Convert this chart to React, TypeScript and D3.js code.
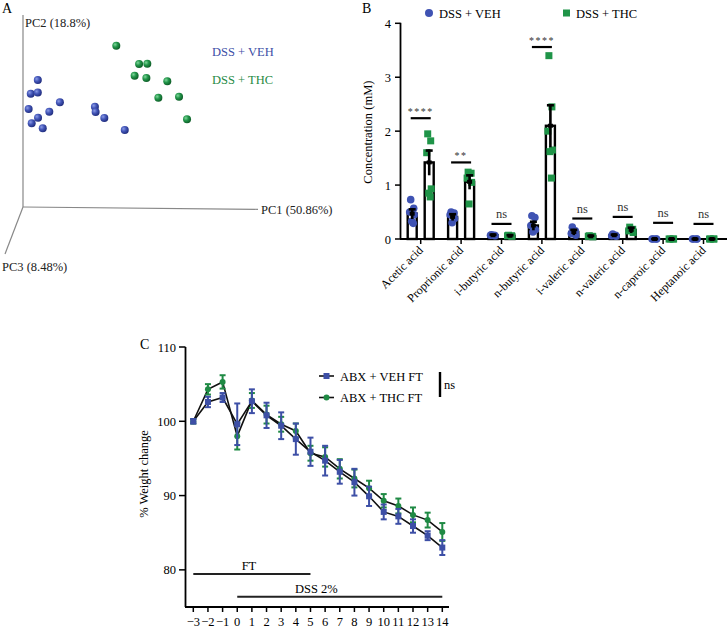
import React from "react";
import * as d3 from "d3";

// ---------- Panel A data (PCA scores, arbitrary units 0..100) ----------
const vehPC1 = [6.3, 3.3, 6.3, 2.4, 15.7, 11.2, 6.4, 3.7, 8.4, 30.6, 30.9, 34.6, 43.3];
const vehPC2 = [66.1, 59.0, 59.6, 51.0, 54.5, 49.6, 46.5, 43.6, 41.0, 52.2, 49.5, 46.4, 40.1];
const thcPC1 = [39.7, 49.4, 52.9, 47.5, 52.5, 61.4, 57.6, 66.4, 69.8];
const thcPC2 = [84.0, 74.5, 74.6, 68.4, 67.2, 65.5, 56.9, 57.4, 45.7];

// ---------- Panel B data ----------
const acids = [
  "Acetic acid",
  "Proprionic acid",
  "i-butyric acid",
  "n-butyric acid",
  "i-valeric acid",
  "n-valeric acid",
  "n-caproic acid",
  "Heptanoic acid",
];
const vehMean = [0.47, 0.41, 0.07, 0.25, 0.13, 0.07, 0.0, 0.0];
const vehSem = [0.08, 0.05, 0.01, 0.07, 0.04, 0.01, 0.0, 0.0];
const thcMean = [1.42, 1.06, 0.06, 2.1, 0.05, 0.17, 0.0, 0.0];
const thcSem = [0.22, 0.12, 0.01, 0.38, 0.01, 0.04, 0.0, 0.0];
const vehPoints = [
  [0.73, 0.57, 0.5, 0.45, 0.33, 0.29],
  [0.5, 0.48, 0.45, 0.38, 0.3],
  [0.08, 0.07, 0.07, 0.06],
  [0.43, 0.4, 0.25, 0.17, 0.13],
  [0.22, 0.15, 0.1, 0.07],
  [0.09, 0.07, 0.06, 0.05],
  [0, 0, 0, 0],
  [0, 0, 0, 0],
];
const thcPoints = [
  [1.95, 1.82, 1.6, 0.93, 0.85, 0.78],
  [1.24, 1.22, 1.13, 1.05, 0.65],
  [0.07, 0.06, 0.06, 0.05],
  [3.4, 2.45, 2.0, 1.65, 1.62, 1.13],
  [0.06, 0.05, 0.05, 0.04],
  [0.22, 0.18, 0.15, 0.12],
  [0, 0, 0, 0],
  [0, 0, 0, 0],
];
const sigLevel = [2.24, 1.42, 0.28, 3.56, 0.38, 0.41, 0.3, 0.28];
const sigLabel = ["****", "**", "ns", "****", "ns", "ns", "ns", "ns"];
const bTicks = [0, 1, 2, 3, 4];

// ---------- Panel C data ----------
const days = [-3, -2, -1, 0, 1, 2, 3, 4, 5, 6, 7, 8, 9, 10, 11, 12, 13, 14];
const vehW = [100, 102.6, 103.2, 99.6, 102.7, 100.8, 99.4, 97.6, 95.9, 94.7, 93.2, 91.8, 89.9, 87.8, 87.2, 85.9, 84.6, 83.0];
const vehE = [0.3, 0.7, 0.6, 2.8, 1.6, 1.7, 1.8, 2.1, 1.9, 2.0, 1.6, 1.8, 1.3, 1.0, 1.0, 0.9, 0.6, 1.0];
const thcW = [100, 104.3, 105.3, 98.0, 102.8, 100.9, 99.6, 98.7, 95.7, 95.2, 93.6, 92.3, 91.0, 89.3, 88.6, 87.4, 86.7, 85.1];
const thcE = [0.3, 0.7, 0.9, 1.8, 1.0, 1.2, 1.0, 1.0, 1.0, 1.3, 1.3, 1.2, 1.0, 0.9, 1.0, 1.0, 1.0, 1.2];
const cTicks = [80, 90, 100, 110];
const ftRange = [-3, 5];
const dssRange = [0, 14];

const FONT = "'Liberation Serif', 'DejaVu Serif', serif";
const BLUE = "#3d4fa6";
const GREEN = "#1f8a44";
const BLUE_B = "#3f53b3";
const GREEN_B = "#1f9448";

const fmtMinus = (d: number) => (d < 0 ? "\u2212" + Math.abs(d) : String(d));

function PanelA() {
  const x = d3.scaleLinear().domain([0, 100]).range([23, 258]);
  const y = d3.scaleLinear().domain([0, 100]).range([207, 15]);
  const r = 4;
  return (
    <g>
      <defs>
        <radialGradient id="gBlue" cx="0.35" cy="0.35" r="0.7">
          <stop offset="0%" stopColor="#8b9be6" />
          <stop offset="45%" stopColor="#4356b8" />
          <stop offset="100%" stopColor="#1e2a7a" />
        </radialGradient>
        <radialGradient id="gGreen" cx="0.35" cy="0.35" r="0.7">
          <stop offset="0%" stopColor="#7fd69a" />
          <stop offset="45%" stopColor="#22964a" />
          <stop offset="100%" stopColor="#0c5a25" />
        </radialGradient>
      </defs>
      <text x={2} y={13} fontSize={14} fontFamily={FONT}>A</text>
      <line x1={23} y1={15} x2={23} y2={207} stroke="#888" strokeWidth={1.2} />
      <line x1={23} y1={207} x2={258} y2={209.3} stroke="#888" strokeWidth={1.2} />
      <line x1={23} y1={207} x2={5} y2={254} stroke="#888" strokeWidth={1.2} />
      <text x={25} y={27} fontSize={12.5} fontFamily={FONT} fill="#222">PC2 (18.8%)</text>
      <text x={261} y={214} fontSize={12.5} fontFamily={FONT} fill="#222">PC1 (50.86%)</text>
      <text x={2} y={271} fontSize={12.5} fontFamily={FONT} fill="#222">PC3 (8.48%)</text>
      <text x={212} y={56} fontSize={12.5} fontFamily={FONT} fill={BLUE}>DSS + VEH</text>
      <text x={212} y={84} fontSize={12.5} fontFamily={FONT} fill={GREEN}>DSS + THC</text>
      {vehPC1.map((v, i) => (
        <circle key={"vb" + i} cx={x(v)} cy={y(vehPC2[i])} r={r} fill="url(#gBlue)" />
      ))}
      {thcPC1.map((v, i) => (
        <circle key={"tg" + i} cx={x(v)} cy={y(thcPC2[i])} r={r} fill="url(#gGreen)" />
      ))}
    </g>
  );
}

function PanelB() {
  const x = d3.scaleBand<string>().domain(acids).range([400.5, 723.7]);
  const y = d3.scaleLinear().domain([0, 4]).range([239, 23.3]);
  const off = 8.5;
  const bw = 9;
  const jitter = [-1.5, 1.5, -2.5, 2, -0.5, 1];
  const errBar = (cx: number, m: number, s: number, key: string) => (
    <g key={key} stroke="#000" strokeWidth={2.6}>
      <line x1={cx} x2={cx} y1={y(m + s) - 1} y2={y(Math.max(0, m - s)) + 1} />
      <line x1={cx - 3.5} x2={cx + 3.5} y1={y(m + s)} y2={y(m + s)} />
      <line x1={cx - 2.5} x2={cx + 2.5} y1={y(m)} y2={y(m)} strokeWidth={4} />
    </g>
  );
  return (
    <g>
      <text x={362} y={13} fontSize={14} fontFamily={FONT}>B</text>
      <circle cx={429} cy={13} r={4} fill={BLUE_B} />
      <text x={439} y={17.5} fontSize={12.5} fontFamily={FONT}>DSS + VEH</text>
      <rect x={563} y={9.5} width={7} height={7} fill={GREEN_B} />
      <text x={576} y={17.5} fontSize={12.5} fontFamily={FONT}>DSS + THC</text>
      {/* y axis */}
      <line x1={400.5} x2={400.5} y1={y(4) - 0.5} y2={y(0)} stroke="#000" strokeWidth={1.8} />
      {bTicks.map((t) => (
        <g key={"bt" + t}>
          <line x1={395} x2={400.5} y1={y(t)} y2={y(t)} stroke="#000" strokeWidth={1.5} />
          <text x={391} y={y(t) + 4.5} fontSize={12.5} fontFamily={FONT} textAnchor="end">{t}</text>
        </g>
      ))}
      <text
        transform={`translate(372,${(y(0) + y(4)) / 2 + 1}) rotate(-90)`}
        fontSize={12.5}
        fontFamily={FONT}
        textAnchor="middle"
      >
        Concentration (mM)
      </text>
      {/* x axis */}
      <line x1={400} x2={727} y1={y(0)} y2={y(0)} stroke="#000" strokeWidth={1.8} />
      {acids.map((a) => {
        const cx = (x(a) as number) + x.bandwidth() / 2;
        return (
          <g key={"xt" + a}>
            <line x1={cx} x2={cx} y1={y(0)} y2={y(0) + 5} stroke="#000" strokeWidth={1.5} />
            <text
              transform={`translate(${cx + 3},${y(0) + 12}) rotate(-45)`}
              fontSize={12}
              fontFamily={FONT}
              textAnchor="end"
            >
              {a}
            </text>
          </g>
        );
      })}
      {/* bars */}
      {acids.map((a, i) => {
        const cx = (x(a) as number) + x.bandwidth() / 2;
        return (
          <g key={"bar" + a}>
            <rect x={cx - off - bw / 2} y={y(vehMean[i])} width={bw} height={y(0) - y(vehMean[i])} fill="#fff" stroke="#000" strokeWidth={2.4} />
            <rect x={cx + off - bw / 2} y={y(thcMean[i])} width={bw} height={y(0) - y(thcMean[i])} fill="#fff" stroke="#000" strokeWidth={2.4} />
          </g>
        );
      })}
      {acids.map((a, i) => {
        const cx = (x(a) as number) + x.bandwidth() / 2;
        return (
          <g key={"pts" + a}>
            {vehPoints[i].map((v, j) => (
              <circle key={"v" + j} cx={cx - off + jitter[j % jitter.length]} cy={y(v)} r={3.8} fill={BLUE_B} />
            ))}
            {thcPoints[i].map((v, j) => (
              <rect key={"t" + j} x={cx + off + jitter[j % jitter.length] - 3.5} y={y(v) - 3.5} width={7} height={7} fill={GREEN_B} />
            ))}
          </g>
        );
      })}
      {acids.map((a, i) => {
        const cx = (x(a) as number) + x.bandwidth() / 2;
        return (
          <g key={"err" + a}>
            {errBar(cx - off, vehMean[i], vehSem[i], "ve")}
            {errBar(cx + off, thcMean[i], thcSem[i], "te")}
          </g>
        );
      })}
      {/* significance */}
      {acids.map((a, i) => {
        const cx = (x(a) as number) + x.bandwidth() / 2;
        const yy = y(sigLevel[i]);
        const isStar = sigLabel[i] !== "ns";
        return (
          <g key={"sig" + a}>
            <line x1={cx - 10} x2={cx + 10} y1={yy} y2={yy} stroke="#000" strokeWidth={2.2} />
            <text
              x={cx}
              y={isStar ? yy - 3 : yy - 6}
              fontSize={isStar ? 10 : 12.5}
              letterSpacing={isStar ? 1.5 : 0}
              fontFamily={FONT}
              textAnchor="middle"
              fill="#333"
            >
              {sigLabel[i]}
            </text>
          </g>
        );
      })}
    </g>
  );
}

function PanelC() {
  const x = d3.scaleLinear().domain([-3, 14]).range([193.3, 442.3]);
  const y = d3.scaleLinear().domain([75, 110]).range([607, 347]);
  const line = d3
    .line<number>()
    .x((_, i) => x(days[i]))
    .y((d) => y(d));
  const errs = (vals: number[], es: number[], color: string, key: string) => (
    <g key={key} stroke={color} strokeWidth={2}>
      {vals.map((v, i) => (
        <g key={i}>
          <line x1={x(days[i])} x2={x(days[i])} y1={y(v + es[i])} y2={y(v - es[i])} />
          <line x1={x(days[i]) - 3} x2={x(days[i]) + 3} y1={y(v + es[i])} y2={y(v + es[i])} />
          <line x1={x(days[i]) - 3} x2={x(days[i]) + 3} y1={y(v - es[i])} y2={y(v - es[i])} />
        </g>
      ))}
    </g>
  );
  return (
    <g>
      <text x={140} y={349} fontSize={14} fontFamily={FONT}>C</text>
      {/* y axis */}
      <line x1={185.5} x2={185.5} y1={347} y2={607} stroke="#000" strokeWidth={1.8} />
      {cTicks.map((t) => (
        <g key={"ct" + t}>
          <line x1={179} x2={185.5} y1={y(t)} y2={y(t)} stroke="#000" strokeWidth={1.5} />
          <text x={176} y={y(t) + 4.5} fontSize={12.5} fontFamily={FONT} textAnchor="end">{t}</text>
        </g>
      ))}
      <text
        transform={`translate(148,474) rotate(-90)`}
        fontSize={12.5}
        fontFamily={FONT}
        textAnchor="middle"
      >
        % Weight change
      </text>
      {/* x axis */}
      <line x1={185} x2={449} y1={607} y2={607} stroke="#000" strokeWidth={1.8} />
      {days.map((d) => (
        <g key={"xd" + d}>
          <line x1={x(d)} x2={x(d)} y1={607} y2={612} stroke="#000" strokeWidth={1.5} />
          <text x={x(d)} y={626} fontSize={12.5} fontFamily={FONT} textAnchor="middle">{fmtMinus(d)}</text>
        </g>
      ))}
      {/* FT and DSS bars */}
      <line x1={x(ftRange[0])} x2={x(ftRange[1])} y1={574} y2={574} stroke="#222" strokeWidth={2} />
      <text x={x(0.8)} y={570} fontSize={12.5} fontFamily={FONT} textAnchor="middle">FT</text>
      <line x1={x(dssRange[0])} x2={x(dssRange[1])} y1={596.7} y2={596.7} stroke="#222" strokeWidth={2} />
      <text x={x(5.4)} y={593} fontSize={12.5} fontFamily={FONT} textAnchor="middle">DSS 2%</text>
      {/* lines */}
      <path d={line(thcW) || ""} fill="none" stroke="#111" strokeWidth={1.6} />
      <path d={line(vehW) || ""} fill="none" stroke="#111" strokeWidth={1.6} />
      {errs(thcW, thcE, GREEN, "te")}
      {thcW.map((v, i) => (
        <circle key={"tc" + i} cx={x(days[i])} cy={y(v)} r={3} fill={GREEN} />
      ))}
      {errs(vehW, vehE, BLUE, "ve")}
      {vehW.map((v, i) => (
        <rect key={"vr" + i} x={x(days[i]) - 3} y={y(v) - 3} width={6} height={6} fill={BLUE} />
      ))}
      {/* legend */}
      <line x1={319} x2={334} y1={376} y2={376} stroke="#111" strokeWidth={1.6} />
      <rect x={323.5} y={373} width={6} height={6} fill={BLUE} />
      <text x={340} y={380.5} fontSize={12.5} fontFamily={FONT}>ABX + VEH FT</text>
      <line x1={319} x2={334} y1={397.5} y2={397.5} stroke="#111" strokeWidth={1.6} />
      <circle cx={326.5} cy={397.5} r={3} fill={GREEN} />
      <text x={340} y={402} fontSize={12.5} fontFamily={FONT}>ABX + THC FT</text>
      <line x1={440} x2={440} y1={372} y2={397} stroke="#000" strokeWidth={2.4} />
      <text x={444} y={389} fontSize={12.5} fontFamily={FONT}>ns</text>
    </g>
  );
}

export default function App() {
  return (
    <svg
      width={728}
      height={628}
      viewBox="0 0 728 628"
      style={{ position: "absolute", left: 0, top: 0, background: "#fff" }}
    >
      <rect x={0} y={0} width={728} height={628} fill="#fff" />
      <PanelA />
      <PanelB />
      <PanelC />
    </svg>
  );
}
